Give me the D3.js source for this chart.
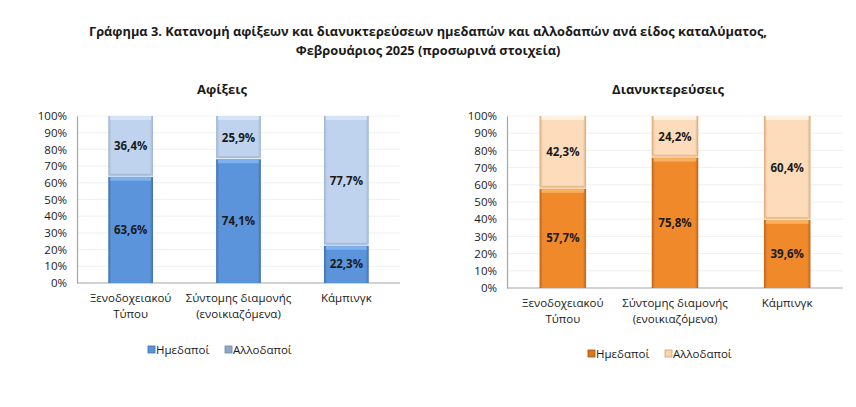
<!DOCTYPE html>
<html>
<head>
<meta charset="utf-8">
<script src="https://cdn.jsdelivr.net/npm/d3@7"></script>
<style>
  body { margin: 0; background: #fff; }
  text { font-family: "Open Sans", "Noto Sans", sans-serif; fill: #1a1a1a; }
</style>
</head>
<body>
<svg width="856" height="407"></svg>
<script>
// data
var categories = ["Ξενοδοχειακού|Τύπου", "Σύντομης διαμονής|(ενοικιαζόμενα)", "Κάμπινγκ"];
var seriesNames = ["Ημεδαποί", "Αλλοδαποί"];
var arrivalsDomestic = [63.6, 74.1, 22.3];
var arrivalsForeign = [36.4, 25.9, 77.7];
var nightsDomestic = [57.7, 75.8, 39.6];
var nightsForeign = [42.3, 24.2, 60.4];
var yTicks = [0, 10, 20, 30, 40, 50, 60, 70, 80, 90, 100];

var svg = d3.select("svg");
var defs = svg.append("defs");

// title
var title = svg.append("text")
  .attr("x", 428).attr("y", 36)
  .attr("text-anchor", "middle")
  .style("font-size", "12.8px").style("font-weight", "bold");
title.append("tspan").attr("x", 428).text("Γράφημα 3. Κατανομή αφίξεων και διανυκτερεύσεων ημεδαπών και αλλοδαπών ανά είδος καταλύματος,");
title.append("tspan").attr("x", 428).attr("dy", 19).text("Φεβρουάριος 2025 (προσωρινά στοιχεία)");

// bar gradient: darker edges, lighter centre
function makeGrad(id, edge, mid) {
  var g = defs.append("linearGradient").attr("id", id)
    .attr("x1", "0%").attr("x2", "100%").attr("y1", "0%").attr("y2", "0%");
  g.append("stop").attr("offset", "0%").attr("stop-color", edge);
  g.append("stop").attr("offset", "7%").attr("stop-color", mid);
  g.append("stop").attr("offset", "93%").attr("stop-color", mid);
  g.append("stop").attr("offset", "100%").attr("stop-color", edge);
}
makeGrad("blueDark", "#3f6fae", "#5b94db");
makeGrad("blueLight", "#9fb3cf", "#bfd3ee");
makeGrad("orangeDark", "#b8641c", "#f0892a");
makeGrad("orangeLight", "#d9a878", "#fddcbb");

function drawPanel(opts) {
  var g = svg.append("g");

  var x = d3.scaleBand()
    .domain(categories)
    .range([opts.left, opts.right])
    .paddingInner(0.585)
    .paddingOuter(0.29);

  var y = d3.scaleLinear()
    .domain([0, 100])
    .range([opts.bottom, opts.top]);

  // subtitle
  g.append("text")
    .attr("x", opts.titleX).attr("y", 94)
    .attr("text-anchor", "middle")
    .style("font-size", "13px").style("font-weight", "bold")
    .text(opts.title);

  // gridlines
  g.selectAll(".grid")
    .data(yTicks.slice(1))
    .enter().append("line")
    .attr("x1", opts.left).attr("x2", opts.right)
    .attr("y1", function(d) { return y(d); })
    .attr("y2", function(d) { return y(d); })
    .attr("stroke", "#ececec").attr("stroke-width", 0.8);

  // y axis
  var yAxis = g.append("g")
    .attr("transform", "translate(" + opts.left + ",0)")
    .call(d3.axisLeft(y).tickValues(yTicks).tickSize(0).tickPadding(10)
      .tickFormat(function(d) { return d + "%"; }));
  yAxis.select(".domain").attr("stroke", "#a6a6a6").attr("stroke-width", 1.2);
  yAxis.selectAll("text")
    .style("font-size", "11.5px")
    .style("font-family", "'Open Sans', sans-serif")
    .attr("fill", "#1a1a1a");

  // x axis line
  g.append("line")
    .attr("x1", opts.left).attr("x2", opts.right)
    .attr("y1", opts.bottom).attr("y2", opts.bottom)
    .attr("stroke", "#a6a6a6").attr("stroke-width", 1.2);

  var stack = categories.map(function(c, i) {
    return { cat: c, dom: opts.dom[i], frn: opts.frn[i] };
  });

  // domestic (bottom)
  var bars = g.selectAll(".bar").data(stack).enter().append("g");

  bars.append("rect")
    .attr("x", function(d) { return x(d.cat); })
    .attr("width", x.bandwidth())
    .attr("y", function(d) { return y(d.dom); })
    .attr("height", function(d) { return y(0) - y(d.dom); })
    .attr("fill", "url(#" + opts.darkGrad + ")");
  bars.append("rect")
    .attr("x", function(d) { return x(d.cat) + 2; })
    .attr("width", x.bandwidth() - 4)
    .attr("y", function(d) { return y(d.dom); })
    .attr("height", 4)
    .attr("fill", opts.darkTop);

  // foreign (top)
  bars.append("rect")
    .attr("x", function(d) { return x(d.cat); })
    .attr("width", x.bandwidth())
    .attr("y", function(d) { return y(d.dom + d.frn); })
    .attr("height", function(d) { return y(d.dom) - y(d.dom + d.frn) - 1; })
    .attr("fill", "url(#" + opts.lightGrad + ")");
  bars.append("rect")
    .attr("x", function(d) { return x(d.cat) + 2; })
    .attr("width", x.bandwidth() - 4)
    .attr("y", function(d) { return y(d.dom + d.frn); })
    .attr("height", 4)
    .attr("fill", opts.lightTop);
  bars.append("rect")
    .attr("x", function(d) { return x(d.cat) + 2; })
    .attr("width", x.bandwidth() - 4)
    .attr("y", function(d) { return y(d.dom) - 3; })
    .attr("height", 2)
    .attr("fill", opts.lightBottom);

  // value labels
  function fmt(v) { return v.toFixed(1).replace(".", ",") + "%"; }
  bars.append("text")
    .attr("x", function(d) { return x(d.cat) + x.bandwidth() / 2; })
    .attr("y", function(d) { return y(d.dom / 2) + 4; })
    .attr("text-anchor", "middle")
    .style("font-size", "11.5px").style("font-weight", "bold")
    .text(function(d) { return fmt(d.dom); });
  bars.append("text")
    .attr("x", function(d) { return x(d.cat) + x.bandwidth() / 2; })
    .attr("y", function(d) { return y(d.dom + d.frn / 2) + 4; })
    .attr("text-anchor", "middle")
    .style("font-size", "11.5px").style("font-weight", "bold")
    .text(function(d) { return fmt(d.frn); });

  // category labels
  var lab = g.selectAll(".cat").data(categories).enter().append("text")
    .attr("x", function(d) { return x(d) + x.bandwidth() / 2; })
    .attr("y", opts.bottom + 19)
    .attr("text-anchor", "middle")
    .style("font-size", "11.5px");
  lab.each(function(d) {
    var parts = d.split("|");
    var t = d3.select(this);
    parts.forEach(function(p, i) {
      t.append("tspan")
        .attr("x", x(d) + x.bandwidth() / 2)
        .attr("dy", i === 0 ? 0 : 16)
        .text(p);
    });
  });

  // legend
  var leg = g.append("g").attr("transform", "translate(" + opts.legendX + "," + opts.legendY + ")");
  var legColors = [[opts.legDark, opts.legDarkEdge], [opts.legLight, opts.legLightEdge]];
  var offs = [0, 77];
  seriesNames.forEach(function(s, i) {
    leg.append("rect")
      .attr("x", offs[i]).attr("y", -8)
      .attr("width", 7).attr("height", 7)
      .attr("fill", legColors[i][0])
      .attr("stroke", legColors[i][1]).attr("stroke-width", 0.8);
    leg.append("text")
      .attr("x", offs[i] + 8).attr("y", 0)
      .style("font-size", "11.5px")
      .text(s);
  });
}

drawPanel({
  title: "Αφίξεις", titleX: 222,
  left: 77, right: 400, top: 116, bottom: 283,
  dom: arrivalsDomestic, frn: arrivalsForeign,
  darkGrad: "blueDark", lightGrad: "blueLight",
  darkTop: "#7fb0ee", lightTop: "#d6e3f5", lightBottom: "#a9bcd6",
  legendX: 148, legendY: 354,
  legDark: "#5b94db", legDarkEdge: "#3f6fae", legLight: "#8fa8c8", legLightEdge: "#6d88ad"
});

drawPanel({
  title: "Διανυκτερεύσεις", titleX: 668,
  left: 507, right: 843, top: 116, bottom: 288,
  dom: nightsDomestic, frn: nightsForeign,
  darkGrad: "orangeDark", lightGrad: "orangeLight",
  darkTop: "#f8b060", lightTop: "#fff1e3", lightBottom: "#e9bd90",
  legendX: 588, legendY: 358,
  legDark: "#d9771e", legDarkEdge: "#9c5010", legLight: "#fbd3ab", legLightEdge: "#d0a070"
});
</script>
</body>
</html>
